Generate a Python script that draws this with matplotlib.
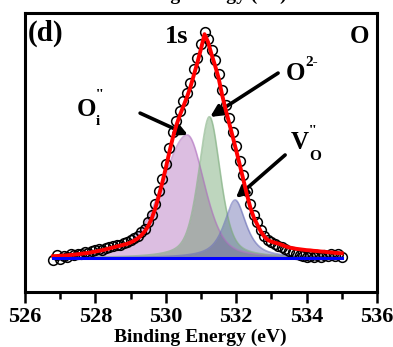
# O 1s XPS spectrum, panel (d): measured points, fitted envelope and three components
import numpy as np
import matplotlib; matplotlib.use("Agg")
import matplotlib.pyplot as plt

plt.rcParams["font.family"] = ["Liberation Serif", "DejaVu Serif"]
plt.rcParams["font.weight"] = "bold"

# binding energy grid of the scan (eV), 0.1 eV step
energy = [round(526.8 + 0.1 * i, 1) for i in range(83)]

# measured intensity (normalised, background subtracted)
counts = [-0.010, 0.012, -0.004, 0.008, 0.003, 0.016, 0.012, 0.020, 0.016, 0.026,
          0.024, 0.030, 0.034, 0.038, 0.036, 0.046, 0.049, 0.053, 0.060, 0.058,
          0.068, 0.072, 0.080, 0.090, 0.098, 0.115, 0.128, 0.160, 0.192, 0.240,
          0.296, 0.352, 0.420, 0.488, 0.560, 0.608, 0.655, 0.698, 0.735, 0.780,
          0.838, 0.890, 0.950, 1.005, 0.975, 0.925, 0.880, 0.818, 0.748, 0.680,
          0.622, 0.560, 0.498, 0.430, 0.368, 0.300, 0.240, 0.192, 0.158, 0.126,
          0.100, 0.082, 0.070, 0.062, 0.055, 0.048, 0.040, 0.032, 0.026, 0.020,
          0.015, 0.008, 0.005, 0.010, 0.004, 0.012, 0.006, 0.014, 0.008, 0.018,
          0.010, 0.016, 0.004]

# fitted envelope on the same grid
envelope = [0.008, 0.009, 0.010, 0.011, 0.012, 0.014, 0.015, 0.017, 0.019, 0.021,
            0.023, 0.026, 0.029, 0.032, 0.035, 0.039, 0.043, 0.047, 0.051, 0.055,
            0.059, 0.063, 0.069, 0.077, 0.087, 0.100, 0.118, 0.142, 0.176, 0.220,
            0.275, 0.335, 0.400, 0.470, 0.535, 0.590, 0.635, 0.675, 0.715, 0.760,
            0.815, 0.870, 0.930, 0.995, 0.960, 0.905, 0.855, 0.800, 0.725, 0.660,
            0.600, 0.540, 0.478, 0.415, 0.350, 0.285, 0.225, 0.180, 0.148, 0.118,
            0.095, 0.080, 0.073, 0.068, 0.064, 0.058, 0.052, 0.047, 0.044, 0.041,
            0.039, 0.037, 0.035, 0.034, 0.032, 0.031, 0.029, 0.028, 0.026, 0.025,
            0.023, 0.022, 0.021]

# fitted components: Oi'' (interstitial), O2- (lattice), Vo'' (vacancy)
peak_centers = [530.61, 531.24, 531.97]
peak_heights = [0.547, 0.628, 0.258]
hwhm_low = [0.85, 0.37, 0.37]    # half width on the low-energy side
hwhm_high = [0.58, 0.37, 0.37]   # half width on the high-energy side
lor_frac = [0.4, 0.5, 0.8]
peak_fill = [(0.62, 0.30, 0.68), (0.30, 0.56, 0.30), (0.25, 0.28, 0.60)]
peak_edge = ["#b070c0", "#7fae7f", "#6a6fb8"]


def pvoigt(x, c, h, wl, wr, eta):
    w = np.where(x < c, wl, wr)
    u = ((x - c) / w) ** 2
    return h * ((1 - eta) * np.exp(-np.log(2) * u) + eta / (1 + u))


fig = plt.figure(figsize=(3.93, 3.47), dpi=100)
ax = fig.add_axes([25 / 393, 1 - 292 / 347, 352 / 393, 279 / 347])

xf = np.linspace(energy[0], energy[-1], 600)
for c, h, wl, wr, eta, fc, ec in zip(peak_centers, peak_heights, hwhm_low, hwhm_high,
                                     lor_frac, peak_fill, peak_edge):
    yy = pvoigt(xf, c, h, wl, wr, eta)
    ax.fill_between(xf, 0, yy, color=fc, alpha=0.36, lw=0, zorder=1)
    ax.plot(xf, yy, color=ec, lw=1.2, alpha=0.6, zorder=2)

ax.plot(energy, counts, "o", ms=7, mfc="none", mec="black", mew=1.1, zorder=3)
ax.plot(energy, envelope, color="#ff0000", lw=2.8, zorder=4)
ax.plot([energy[0], energy[-1]], [0, 0], color="#0000ff", lw=2.2, zorder=5)

ax.set_xlim(526, 536)
ax.set_ylim(-0.151, 1.089)
ax.set_xticks(range(526, 537, 2))
ax.set_xticks(range(527, 536, 2), minor=True)
ax.set_yticks([])
ax.tick_params(axis="x", which="major", direction="out", length=8, width=1.8,
               labelsize=16, pad=3)
ax.tick_params(axis="x", which="minor", direction="out", length=5, width=1.8)
for s in ax.spines.values():
    s.set_linewidth(2.2)

fig.text(200 / 393, 1 - 337 / 347, "Binding Energy (eV)", ha="center", va="center",
         fontsize=14, fontweight="bold")
# xlabel of the panel above, cut by the top edge
fig.text(200 / 393, 1 + 5 / 347, "Binding Energy (eV)", ha="center", va="center",
         fontsize=14, fontweight="bold")

ax.text(0.008, 0.900, "(d)", transform=ax.transAxes, ha="left", va="baseline",
        fontsize=21, fontweight="bold")
ax.text(0.398, 0.892, "1s", transform=ax.transAxes, ha="left", va="baseline",
        fontsize=19, fontweight="bold")
ax.text(0.922, 0.892, "O", transform=ax.transAxes, ha="left", va="baseline",
        fontsize=18, fontweight="bold")

# peak labels: main letter plus small sub/superscripts
big, small = 18, 11
ax.text(527.46, 0.631, "O", ha="left", va="baseline", fontsize=big)
ax.text(528.00, 0.750, "''", ha="left", va="top", fontsize=small)
ax.text(528.00, 0.591, "i", ha="left", va="baseline", fontsize=small)

ax.text(533.40, 0.791, "O", ha="left", va="baseline", fontsize=big)
ax.text(533.96, 0.900, "2-", ha="left", va="top", fontsize=small)

ax.text(533.54, 0.484, "V", ha="left", va="baseline", fontsize=big)
ax.text(534.06, 0.590, "''", ha="left", va="top", fontsize=small)
ax.text(534.08, 0.436, "O", ha="left", va="baseline", fontsize=small)

arrow = dict(arrowstyle="-|>", color="black", lw=2.6, mutation_scale=17, shrinkA=0, shrinkB=0)
ax.annotate("", xy=(530.63, 0.547), xytext=(529.27, 0.644), arrowprops=arrow)
ax.annotate("", xy=(531.26, 0.627), xytext=(533.19, 0.822), arrowprops=arrow)
ax.annotate("", xy=(531.99, 0.267), xytext=(533.39, 0.458), arrowprops=arrow)

fig.savefig("out.png", dpi=100)
